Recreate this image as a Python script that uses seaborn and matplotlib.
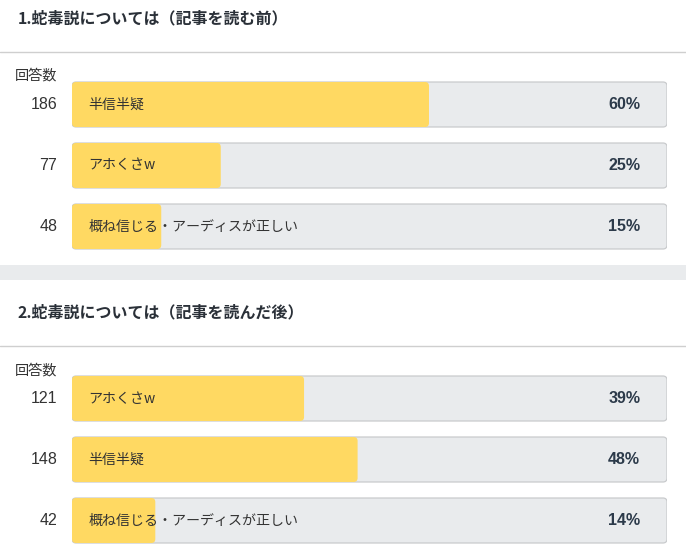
import matplotlib
matplotlib.use("Agg")
import matplotlib.pyplot as plt
from matplotlib.patches import FancyBboxPatch
import seaborn as sns
import pandas as pd

# -------------------
# DATA
# -------------------
q1_title = "1.蛇毒説については（記事を読む前）"
q1_labels = ["半信半疑", "アホくさw", "概ね信じる・アーディスが正しい"]
q1_counts = [186, 77, 48]
q1_pcts = [60, 25, 15]

q2_title = "2.蛇毒説については（記事を読んだ後）"
q2_labels = ["アホくさw", "半信半疑", "概ね信じる・アーディスが正しい"]
q2_counts = [121, 148, 42]
q2_pcts = [39, 48, 14]

count_header = "回答数"

# -------------------
# STYLE
# -------------------
sns.set_theme(style="white")
plt.rcParams["font.family"] = ["Noto Sans CJK JP", "DejaVu Sans"]

W, H = 686, 552
YELLOW = "#ffd962"
TRACK = "#e9ebed"
TRACK_EDGE = "#c9cbcd"
TEXT = "#333333"
PCT = "#2c3a4a"
BAND = "#e9ebed"
NUM_FONT = ["Liberation Sans", "DejaVu Sans"]

TRACK_L, TRACK_R = 72, 667
STEP, BAR_H = 61, 45
RADIUS_PX = 4

fig = plt.figure(figsize=(W / 100, H / 100), dpi=100)
fig.patch.set_facecolor("white")


def px_rect(left, top, right, bottom):
    return [left / W, 1 - bottom / H, (right - left) / W, (bottom - top) / H]


def round_bars(ax, bars, color, edge, z):
    # swap seaborn's square bars for rounded ones of the same size
    x_px = (TRACK_R - TRACK_L) / 100.0   # px per x unit
    y_px = float(STEP)                   # px per y unit
    r = RADIUS_PX / x_px
    for b in list(bars):
        x, y = b.get_x(), b.get_y()
        w, h = b.get_width(), b.get_height()
        b.remove()
        if w <= 0:
            continue
        p = FancyBboxPatch((x, y), w, h,
                           boxstyle=f"round,pad=0,rounding_size={r}",
                           mutation_aspect=x_px / y_px,
                           facecolor=color, edgecolor=edge, linewidth=0.9,
                           zorder=z)
        ax.add_patch(p)


def draw_section(title, labels, counts, pcts, title_y, line_y, bar_top):
    fig.text(18 / W, 1 - title_y / H, title, fontsize=11.5, fontweight="bold",
             color="#2a3038", va="center", ha="left")
    fig.add_artist(plt.Line2D([0, 1], [1 - line_y / H] * 2, color="#cfcfcf",
                              linewidth=1.0, transform=fig.transFigure))
    fig.text(15 / W, 1 - (line_y + 24) / H, count_header, fontsize=10.2,
             color=TEXT, va="center", ha="left")

    top = bar_top - (STEP - BAR_H) / 2
    ax = fig.add_axes(px_rect(TRACK_L, top, TRACK_R, top + STEP * 3))
    df = pd.DataFrame({"label": labels, "pct": pcts,
                       "full": [100] * len(labels)})

    sns.barplot(data=df, x="full", y="label", orient="h", width=BAR_H / STEP,
                color=TRACK, ax=ax)
    round_bars(ax, ax.containers[-1], TRACK, TRACK_EDGE, 2)
    sns.barplot(data=df, x="pct", y="label", orient="h", width=BAR_H / STEP,
                color=YELLOW, ax=ax)
    round_bars(ax, ax.containers[-1], YELLOW, "none", 3)

    for i, (lab, c, p) in enumerate(zip(labels, counts, pcts)):
        ax.text(2.7, i, lab, fontsize=10.1, color=TEXT, va="center",
                ha="left", zorder=5)
        ax.text(95.5, i, f"{p}%", fontsize=11.5, fontweight="bold",
                color=PCT, va="center", ha="right", zorder=5, family=NUM_FONT)
        ax.text(-2.5, i, str(c), fontsize=11.5, color=TEXT, va="center",
                ha="right", zorder=5, family=NUM_FONT)

    ax.set_xlim(0, 100)
    ax.set_ylim(len(labels) - 0.5, -0.5)
    ax.set_axis_off()
    return ax


draw_section(q1_title, q1_labels, q1_counts, q1_pcts, 18, 52, 82)

# gray separator band between the two questions
band = fig.add_axes(px_rect(0, 265, W, 280))
band.set_facecolor(BAND)
band.set_xticks([])
band.set_yticks([])
for s in band.spines.values():
    s.set_visible(False)

draw_section(q2_title, q2_labels, q2_counts, q2_pcts, 312, 346, 376)

fig.savefig("out.png", dpi=100, facecolor="white")
